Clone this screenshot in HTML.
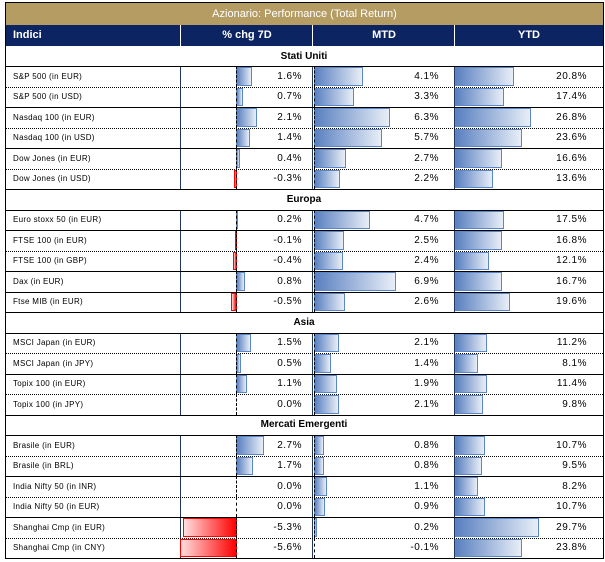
<!DOCTYPE html>
<html><head><meta charset="utf-8">
<style>
*{margin:0;padding:0}
body{width:605px;height:562px;background:#fff;position:relative;overflow:hidden;font-family:"Liberation Sans",sans-serif;color:#000}
.t{position:absolute;left:6px;top:3px;width:597px;height:22px;background:#b59c63;color:#fff;font-size:11px;text-align:center;line-height:22px}
.h{position:absolute;left:6px;top:25px;width:597px;height:21px;background:#0c2461;color:#fff;font-weight:bold;font-size:11px;line-height:21px}
.h span{position:absolute;top:0}
.hs{position:absolute;top:0;height:21px;width:1px;background:#fff}
.r{position:absolute;left:5px;width:598px}
.sec{text-align:center;font-weight:bold;font-size:10px}
.l{position:absolute;left:8px;top:0;font-size:8px;letter-spacing:0.3px}
.n{position:absolute;top:0;font-size:10px;letter-spacing:0.5px}
.v{position:absolute;top:0;bottom:0;width:1px;background:#1f3660}
.ax{position:absolute;top:0;bottom:0;width:0;border-left:1px dashed #000}
.bp{position:absolute;top:1px;bottom:1px;box-sizing:border-box;border:1px solid #5b86c8;background:linear-gradient(to right,#5a80c0,#e8eef7)}
.bn{position:absolute;top:1px;bottom:1px;box-sizing:border-box;border:1px solid #f00;background:linear-gradient(to right,#ffdede,#ff0000)}
.hl{position:absolute;left:5px;width:598px;height:0;border-top:1px solid #000}
.hd{position:absolute;left:5px;width:598px;height:0;border-top:1px dotted #000}
.ob{position:absolute;left:5px;top:2px;width:599px;height:557px;box-sizing:border-box;border:1px solid #000}
</style></head><body>

<div class="t">Azionario: Performance (Total Return)</div>
<div class="h">
<span style="left:7px">Indici</span>
<div class="hs" style="left:174px"></div>
<span style="left:175px;width:132px;text-align:center">% chg 7D</span>
<div class="hs" style="left:306px"></div>
<span style="left:307px;width:142px;text-align:center">MTD</span>
<div class="hs" style="left:448px"></div>
<span style="left:449px;width:148px;text-align:center">YTD</span>
</div>

<!-- Stati Uniti -->
<div class="r sec" style="top:46px;height:20px;line-height:21px">Stati Uniti</div>

<div class="r" style="top:66px;height:21px;line-height:21px">
<span class="l">S&amp;P 500 (in EUR)</span><div class="v" style="left:175px"></div>
<div class="bp" style="left:231px;width:16px"></div><div class="ax" style="left:231px"></div><span class="n" style="right:301px">1.6%</span>
<div class="v" style="left:307px"></div><div class="bp" style="left:309px;width:49px"></div><div class="ax" style="left:309px"></div><span class="n" style="right:164px">4.1%</span>
<div class="bp" style="left:450px;width:59px"></div><div class="v" style="left:449px"></div><span class="n" style="right:16px">20.8%</span>
</div>
<div class="r" style="top:87px;height:20px;line-height:20px">
<span class="l">S&amp;P 500 (in USD)</span><div class="v" style="left:175px"></div>
<div class="bp" style="left:231px;width:7px"></div><div class="ax" style="left:231px"></div><span class="n" style="right:301px">0.7%</span>
<div class="v" style="left:307px"></div><div class="bp" style="left:309px;width:40px"></div><div class="ax" style="left:309px"></div><span class="n" style="right:164px">3.3%</span>
<div class="bp" style="left:450px;width:49px"></div><div class="v" style="left:449px"></div><span class="n" style="right:16px">17.4%</span>
</div>
<div class="r" style="top:107px;height:21px;line-height:21px">
<span class="l">Nasdaq 100 (in EUR)</span><div class="v" style="left:175px"></div>
<div class="bp" style="left:231px;width:21px"></div><div class="ax" style="left:231px"></div><span class="n" style="right:301px">2.1%</span>
<div class="v" style="left:307px"></div><div class="bp" style="left:309px;width:76px"></div><div class="ax" style="left:309px"></div><span class="n" style="right:164px">6.3%</span>
<div class="bp" style="left:450px;width:76px"></div><div class="v" style="left:449px"></div><span class="n" style="right:16px">26.8%</span>
</div>
<div class="r" style="top:128px;height:20px;line-height:20px">
<span class="l">Nasdaq 100 (in USD)</span><div class="v" style="left:175px"></div>
<div class="bp" style="left:231px;width:14px"></div><div class="ax" style="left:231px"></div><span class="n" style="right:301px">1.4%</span>
<div class="v" style="left:307px"></div><div class="bp" style="left:309px;width:68px"></div><div class="ax" style="left:309px"></div><span class="n" style="right:164px">5.7%</span>
<div class="bp" style="left:450px;width:67px"></div><div class="v" style="left:449px"></div><span class="n" style="right:16px">23.6%</span>
</div>
<div class="r" style="top:148px;height:21px;line-height:21px">
<span class="l">Dow Jones (in EUR)</span><div class="v" style="left:175px"></div>
<div class="bp" style="left:231px;width:4px"></div><div class="ax" style="left:231px"></div><span class="n" style="right:301px">0.4%</span>
<div class="v" style="left:307px"></div><div class="bp" style="left:309px;width:32px"></div><div class="ax" style="left:309px"></div><span class="n" style="right:164px">2.7%</span>
<div class="bp" style="left:450px;width:47px"></div><div class="v" style="left:449px"></div><span class="n" style="right:16px">16.6%</span>
</div>
<div class="r" style="top:169px;height:20px;line-height:20px">
<span class="l">Dow Jones (in USD)</span><div class="v" style="left:175px"></div>
<div class="bn" style="left:229px;width:3px"></div><div class="ax" style="left:231px"></div><span class="n" style="right:301px">-0.3%</span>
<div class="v" style="left:307px"></div><div class="bp" style="left:309px;width:26px"></div><div class="ax" style="left:309px"></div><span class="n" style="right:164px">2.2%</span>
<div class="bp" style="left:450px;width:38px"></div><div class="v" style="left:449px"></div><span class="n" style="right:16px">13.6%</span>
</div>

<!-- Europa -->
<div class="r sec" style="top:189px;height:21px;line-height:21px">Europa</div>

<div class="r" style="top:210px;height:20px;line-height:20px">
<span class="l">Euro stoxx 50 (in EUR)</span><div class="v" style="left:175px"></div>
<div class="bp" style="left:231px;width:2px"></div><div class="ax" style="left:231px"></div><span class="n" style="right:301px">0.2%</span>
<div class="v" style="left:307px"></div><div class="bp" style="left:309px;width:56px"></div><div class="ax" style="left:309px"></div><span class="n" style="right:164px">4.7%</span>
<div class="bp" style="left:450px;width:49px"></div><div class="v" style="left:449px"></div><span class="n" style="right:16px">17.5%</span>
</div>
<div class="r" style="top:230px;height:21px;line-height:21px">
<span class="l">FTSE 100 (in EUR)</span><div class="v" style="left:175px"></div>
<div class="bn" style="left:230px;width:2px"></div><div class="ax" style="left:231px"></div><span class="n" style="right:301px">-0.1%</span>
<div class="v" style="left:307px"></div><div class="bp" style="left:309px;width:30px"></div><div class="ax" style="left:309px"></div><span class="n" style="right:164px">2.5%</span>
<div class="bp" style="left:450px;width:47px"></div><div class="v" style="left:449px"></div><span class="n" style="right:16px">16.8%</span>
</div>
<div class="r" style="top:251px;height:20px;line-height:20px">
<span class="l">FTSE 100 (in GBP)</span><div class="v" style="left:175px"></div>
<div class="bn" style="left:228px;width:4px"></div><div class="ax" style="left:231px"></div><span class="n" style="right:301px">-0.4%</span>
<div class="v" style="left:307px"></div><div class="bp" style="left:309px;width:29px"></div><div class="ax" style="left:309px"></div><span class="n" style="right:164px">2.4%</span>
<div class="bp" style="left:450px;width:34px"></div><div class="v" style="left:449px"></div><span class="n" style="right:16px">12.1%</span>
</div>
<div class="r" style="top:271px;height:21px;line-height:21px">
<span class="l">Dax (in EUR)</span><div class="v" style="left:175px"></div>
<div class="bp" style="left:231px;width:9px"></div><div class="ax" style="left:231px"></div><span class="n" style="right:301px">0.8%</span>
<div class="v" style="left:307px"></div><div class="bp" style="left:309px;width:82px"></div><div class="ax" style="left:309px"></div><span class="n" style="right:164px">6.9%</span>
<div class="bp" style="left:450px;width:47px"></div><div class="v" style="left:449px"></div><span class="n" style="right:16px">16.7%</span>
</div>
<div class="r" style="top:292px;height:20px;line-height:20px">
<span class="l">Ftse MIB (in EUR)</span><div class="v" style="left:175px"></div>
<div class="bn" style="left:226px;width:6px"></div><div class="ax" style="left:231px"></div><span class="n" style="right:301px">-0.5%</span>
<div class="v" style="left:307px"></div><div class="bp" style="left:309px;width:31px"></div><div class="ax" style="left:309px"></div><span class="n" style="right:164px">2.6%</span>
<div class="bp" style="left:450px;width:55px"></div><div class="v" style="left:449px"></div><span class="n" style="right:16px">19.6%</span>
</div>

<!-- Asia -->
<div class="r sec" style="top:312px;height:21px;line-height:21px">Asia</div>

<div class="r" style="top:333px;height:20px;line-height:20px">
<span class="l">MSCI Japan (in EUR)</span><div class="v" style="left:175px"></div>
<div class="bp" style="left:231px;width:15px"></div><div class="ax" style="left:231px"></div><span class="n" style="right:301px">1.5%</span>
<div class="v" style="left:307px"></div><div class="bp" style="left:309px;width:25px"></div><div class="ax" style="left:309px"></div><span class="n" style="right:164px">2.1%</span>
<div class="bp" style="left:450px;width:32px"></div><div class="v" style="left:449px"></div><span class="n" style="right:16px">11.2%</span>
</div>
<div class="r" style="top:353px;height:21px;line-height:21px">
<span class="l">MSCI Japan (in JPY)</span><div class="v" style="left:175px"></div>
<div class="bp" style="left:231px;width:5px"></div><div class="ax" style="left:231px"></div><span class="n" style="right:301px">0.5%</span>
<div class="v" style="left:307px"></div><div class="bp" style="left:309px;width:17px"></div><div class="ax" style="left:309px"></div><span class="n" style="right:164px">1.4%</span>
<div class="bp" style="left:450px;width:23px"></div><div class="v" style="left:449px"></div><span class="n" style="right:16px">8.1%</span>
</div>
<div class="r" style="top:374px;height:20px;line-height:20px">
<span class="l">Topix 100 (in EUR)</span><div class="v" style="left:175px"></div>
<div class="bp" style="left:231px;width:11px"></div><div class="ax" style="left:231px"></div><span class="n" style="right:301px">1.1%</span>
<div class="v" style="left:307px"></div><div class="bp" style="left:309px;width:23px"></div><div class="ax" style="left:309px"></div><span class="n" style="right:164px">1.9%</span>
<div class="bp" style="left:450px;width:32px"></div><div class="v" style="left:449px"></div><span class="n" style="right:16px">11.4%</span>
</div>
<div class="r" style="top:394px;height:21px;line-height:21px">
<span class="l">Topix 100 (in JPY)</span><div class="v" style="left:175px"></div>
<div class="ax" style="left:231px"></div><span class="n" style="right:301px">0.0%</span>
<div class="v" style="left:307px"></div><div class="bp" style="left:309px;width:25px"></div><div class="ax" style="left:309px"></div><span class="n" style="right:164px">2.1%</span>
<div class="bp" style="left:450px;width:28px"></div><div class="v" style="left:449px"></div><span class="n" style="right:16px">9.8%</span>
</div>

<!-- Mercati Emergenti -->
<div class="r sec" style="top:415px;height:20px;line-height:20px">Mercati Emergenti</div>

<div class="r" style="top:435px;height:21px;line-height:21px">
<span class="l">Brasile (in EUR)</span><div class="v" style="left:175px"></div>
<div class="bp" style="left:231px;width:28px"></div><div class="ax" style="left:231px"></div><span class="n" style="right:301px">2.7%</span>
<div class="v" style="left:307px"></div><div class="bp" style="left:309px;width:10px"></div><div class="ax" style="left:309px"></div><span class="n" style="right:164px">0.8%</span>
<div class="bp" style="left:450px;width:30px"></div><div class="v" style="left:449px"></div><span class="n" style="right:16px">10.7%</span>
</div>
<div class="r" style="top:456px;height:20px;line-height:20px">
<span class="l">Brasile (in BRL)</span><div class="v" style="left:175px"></div>
<div class="bp" style="left:231px;width:17px"></div><div class="ax" style="left:231px"></div><span class="n" style="right:301px">1.7%</span>
<div class="v" style="left:307px"></div><div class="bp" style="left:309px;width:10px"></div><div class="ax" style="left:309px"></div><span class="n" style="right:164px">0.8%</span>
<div class="bp" style="left:450px;width:27px"></div><div class="v" style="left:449px"></div><span class="n" style="right:16px">9.5%</span>
</div>
<div class="r" style="top:476px;height:21px;line-height:21px">
<span class="l">India Nifty 50 (in INR)</span><div class="v" style="left:175px"></div>
<div class="ax" style="left:231px"></div><span class="n" style="right:301px">0.0%</span>
<div class="v" style="left:307px"></div><div class="bp" style="left:309px;width:13px"></div><div class="ax" style="left:309px"></div><span class="n" style="right:164px">1.1%</span>
<div class="bp" style="left:450px;width:23px"></div><div class="v" style="left:449px"></div><span class="n" style="right:16px">8.2%</span>
</div>
<div class="r" style="top:497px;height:20px;line-height:20px">
<span class="l">India Nifty 50 (in EUR)</span><div class="v" style="left:175px"></div>
<div class="ax" style="left:231px"></div><span class="n" style="right:301px">0.0%</span>
<div class="v" style="left:307px"></div><div class="bp" style="left:309px;width:11px"></div><div class="ax" style="left:309px"></div><span class="n" style="right:164px">0.9%</span>
<div class="bp" style="left:450px;width:30px"></div><div class="v" style="left:449px"></div><span class="n" style="right:16px">10.7%</span>
</div>
<div class="r" style="top:517px;height:21px;line-height:21px">
<span class="l">Shanghai Cmp (in EUR)</span><div class="v" style="left:175px"></div>
<div class="bn" style="left:178px;width:54px"></div><div class="ax" style="left:231px"></div><span class="n" style="right:301px">-5.3%</span>
<div class="v" style="left:307px"></div><div class="bp" style="left:309px;width:3px"></div><div class="ax" style="left:309px"></div><span class="n" style="right:164px">0.2%</span>
<div class="bp" style="left:450px;width:84px"></div><div class="v" style="left:449px"></div><span class="n" style="right:16px">29.7%</span>
</div>
<div class="r" style="top:538px;height:20px;line-height:20px">
<span class="l">Shanghai Cmp (in CNY)</span><div class="v" style="left:175px"></div>
<div class="bn" style="left:175px;width:57px"></div><div class="ax" style="left:231px"></div><span class="n" style="right:301px">-5.6%</span>
<div class="v" style="left:307px"></div><div class="ax" style="left:309px"></div><span class="n" style="right:164px">-0.1%</span>
<div class="bp" style="left:450px;width:67px"></div><div class="v" style="left:449px"></div><span class="n" style="right:16px">23.8%</span>
</div>

<!-- horizontal lines -->
<div class="hl" style="top:66px"></div>
<div class="hd" style="top:87px"></div>
<div class="hl" style="top:107px"></div>
<div class="hd" style="top:128px"></div>
<div class="hl" style="top:148px"></div>
<div class="hd" style="top:169px"></div>
<div class="hl" style="top:189px"></div>
<div class="hl" style="top:210px"></div>
<div class="hl" style="top:230px"></div>
<div class="hd" style="top:251px"></div>
<div class="hl" style="top:271px"></div>
<div class="hl" style="top:292px"></div>
<div class="hl" style="top:312px"></div>
<div class="hl" style="top:333px"></div>
<div class="hd" style="top:353px"></div>
<div class="hl" style="top:374px"></div>
<div class="hd" style="top:394px"></div>
<div class="hl" style="top:415px"></div>
<div class="hl" style="top:435px"></div>
<div class="hd" style="top:456px"></div>
<div class="hl" style="top:476px"></div>
<div class="hd" style="top:497px"></div>
<div class="hl" style="top:517px"></div>
<div class="hd" style="top:538px"></div>

<div class="ob"></div>
</body></html>
